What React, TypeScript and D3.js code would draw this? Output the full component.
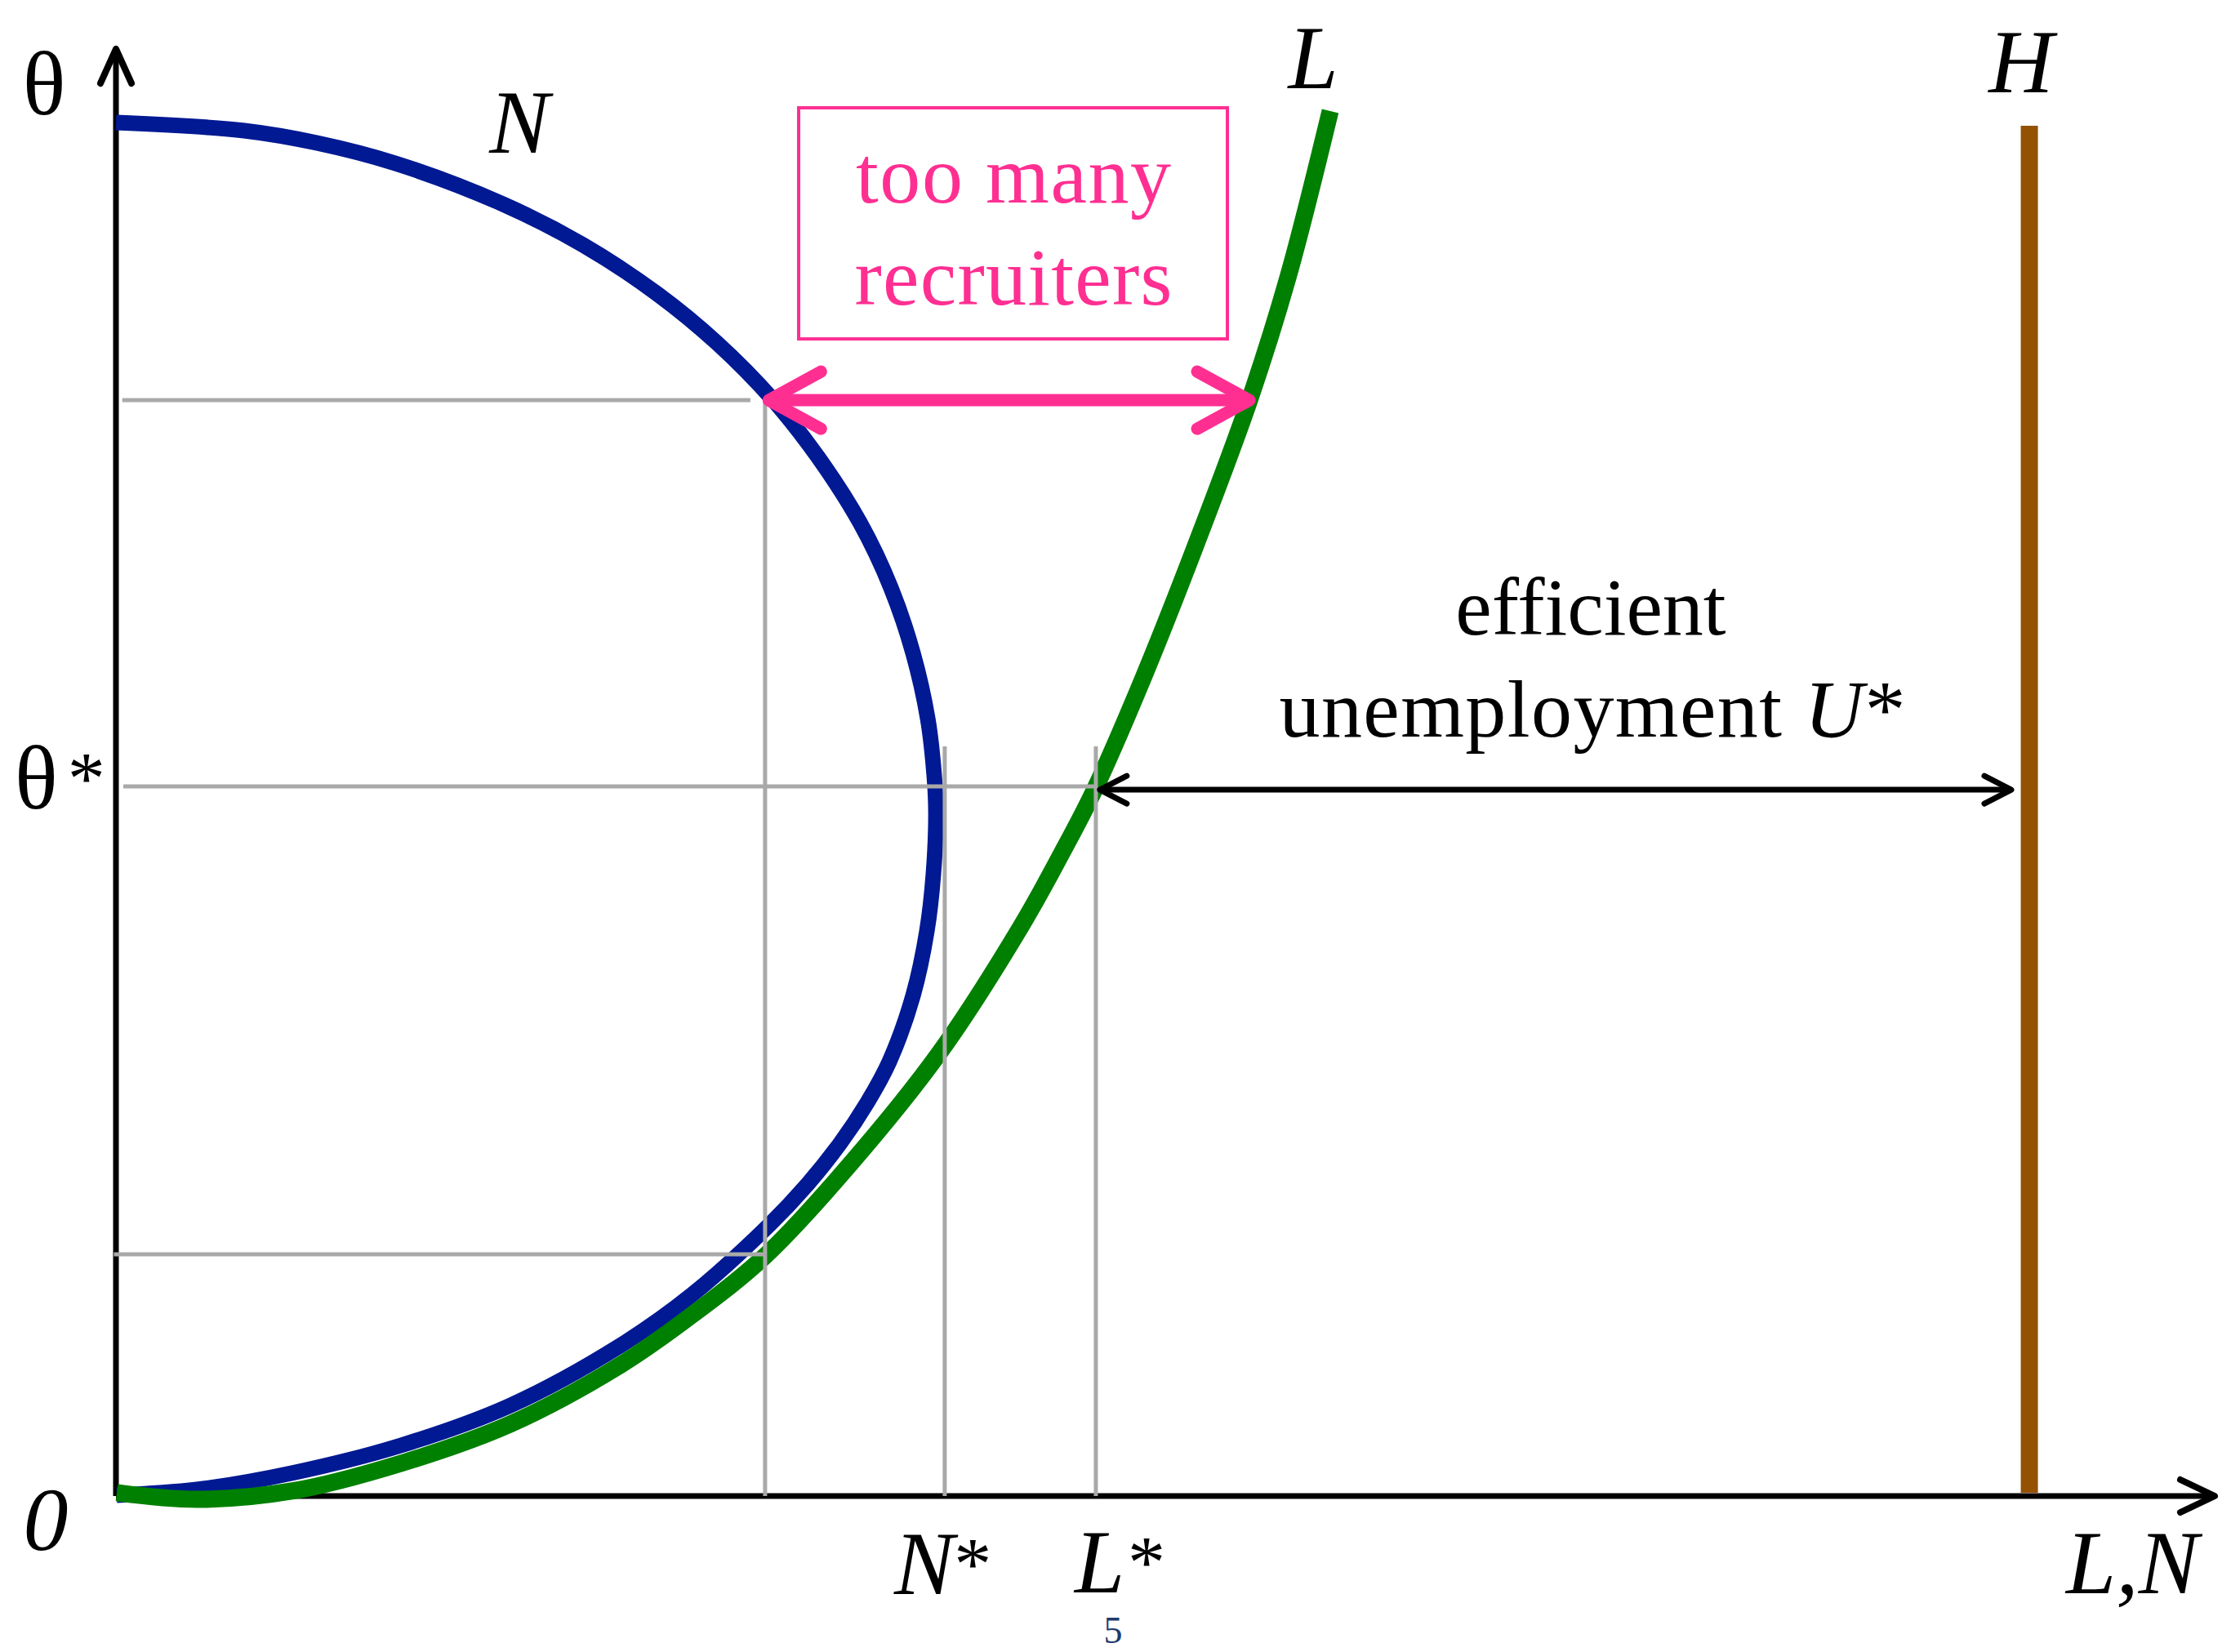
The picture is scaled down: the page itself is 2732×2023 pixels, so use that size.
import React from "react";
import * as d3 from "d3";

const WIDTH = 2732;
const HEIGHT = 2023;

// N curve (x = L,N value, y = θ value) from top to bottom
const nCurveX = [0, 6.11, 9.57, 13.31, 18.44, 22.26, 25.8, 28.64, 31.32, 33.46, 35.45, 36.93, 37.98, 38.68, 38.99, 39.07, 38.95, 38.64, 37.98, 36.85, 35.8, 34.51, 32.96, 31.13, 27.47, 24.01, 18.79, 13.58, 8.37, 3.85, 0.04];
const nCurveY = [94.92, 94.36, 93.51, 92.1, 89.28, 86.46, 83.07, 79.68, 75.73, 71.78, 67.27, 62.75, 58.24, 53.72, 49.77, 47.23, 43.0, 39.05, 34.59, 30.02, 27.2, 24.38, 21.56, 18.74, 13.94, 10.38, 6.26, 3.5, 1.58, 0.45, 0.06];

// L curve
const lCurveX = [0.04, 3.85, 8.37, 13.58, 18.79, 24.01, 27.47, 30.93, 34.94, 39.22, 43.11, 45.06, 46.61, 48.95, 51.4, 54.01, 55.84, 57.86];
const lCurveY = [0.23, -0.23, 0.34, 2.26, 4.97, 9.03, 12.53, 16.59, 22.86, 30.59, 39.33, 44.41, 48.76, 56.55, 65.52, 75.73, 84.2, 95.71];

// key values
const thetaLevels = [75.73, 49.04, 16.7]; // high θ, θ*, low θ
const xMarks = [30.93, 39.49, 46.69]; // N(θhigh)=L(θlow), N*, L*
const xMarkTops = [75.73, 51.8, 51.8];
const hLine = [91.17, 94.7]; // H position, top
const recruiterGap = [31.1, 54.01]; // at θ high
const unemploymentArrow = [46.88, 90.31, 48.81]; // from, to, θ

const BLUE = "#011993";
const GREEN = "#008000";
const PINK = "#ff2f92";
const BROWN = "#945200";
const GRAY = "#a9a9a9";
const FONT = "'Liberation Serif', 'Times New Roman', serif";

function chevron(tx: number, ty: number, dx: number, dy: number, len: number, half: number) {
  const bx = tx - dx * len;
  const by = ty - dy * len;
  const px = -dy;
  const py = dx;
  return `M${bx + px * half},${by + py * half}L${tx},${ty}L${bx - px * half},${by - py * half}`;
}

export default function App() {
  const x = d3.scaleLinear().domain([0, 100]).range([142, 2712]);
  const y = d3.scaleLinear().domain([0, 100]).range([1832, 60]);
  const line = d3
    .line<[number, number]>()
    .x((d) => x(d[0]))
    .y((d) => y(d[1]))
    .curve(d3.curveCatmullRom.alpha(0.5));

  const nPts = nCurveX.map((v, i) => [v, nCurveY[i]] as [number, number]);
  const lPts = lCurveX.map((v, i) => [v, lCurveY[i]] as [number, number]);

  const x0 = x(0);
  const y0 = y(0);

  const [thHigh, thStar, thLow] = thetaLevels;
  const [xGap, nStar, lStar] = xMarks;

  return (
    <div>
      <style>{`body{margin:0;overflow:hidden}`}</style>
      <svg width={WIDTH} height={HEIGHT} style={{ display: "block", background: "#fff" }} fontFamily={FONT}>
        <rect x={0} y={0} width={WIDTH} height={HEIGHT} fill="#fff" />

        {/* axes */}
        <line x1={x0} y1={y0} x2={x0} y2={y(100)} stroke="#000" strokeWidth={7} />
        <line x1={x0} y1={y0} x2={x(100)} y2={y0} stroke="#000" strokeWidth={7} />
        <path d={chevron(x0, y(100), 0, -1, 42, 19)} fill="none" stroke="#000" strokeWidth={8} strokeLinecap="round" strokeLinejoin="round" />
        <path d={chevron(x(100), y0, 1, 0, 42, 20)} fill="none" stroke="#000" strokeWidth={8} strokeLinecap="round" strokeLinejoin="round" />

        {/* H line */}
        <line x1={x(hLine[0])} y1={y(hLine[1])} x2={x(hLine[0])} y2={y0 - 4} stroke={BROWN} strokeWidth={21} />

        {/* curves */}
        <path d={line(nPts) || ""} fill="none" stroke={BLUE} strokeWidth={19} />
        <path d={line(lPts) || ""} fill="none" stroke={GREEN} strokeWidth={21} />

        {/* guide lines */}
        <g stroke={GRAY} strokeWidth={5}>
          <line x1={x(0.3)} y1={y(thHigh)} x2={x(xGap) - 18} y2={y(thHigh)} />
          <line x1={x(xGap)} y1={y(thHigh)} x2={x(xGap)} y2={y0} />
          <line x1={x(0.35)} y1={y(thStar)} x2={x(lStar)} y2={y(thStar)} />
          <line x1={x(-0.1)} y1={y(thLow)} x2={x(xGap)} y2={y(thLow)} />
          <line x1={x(nStar)} y1={y(xMarkTops[1])} x2={x(nStar)} y2={y0} />
          <line x1={x(lStar)} y1={y(xMarkTops[2])} x2={x(lStar)} y2={y0} />
        </g>

        {/* too many recruiters arrow */}
        <g stroke={PINK} strokeWidth={15} fill="none" strokeLinecap="round" strokeLinejoin="round">
          <line x1={x(recruiterGap[0]) + 10} y1={y(thHigh)} x2={x(recruiterGap[1]) - 10} y2={y(thHigh)} />
          <path d={chevron(x(recruiterGap[0]), y(thHigh), -1, 0, 64, 35)} />
          <path d={chevron(x(recruiterGap[1]), y(thHigh), 1, 0, 64, 35)} />
        </g>
        <rect x={978} y={132} width={525} height={283} fill="none" stroke={PINK} strokeWidth={4} />
        <text x={1241} y={248} textAnchor="middle" fontSize={100} fill={PINK} textLength={386} lengthAdjust="spacing">too many</text>
        <text x={1241} y={373} textAnchor="middle" fontSize={100} fill={PINK} textLength={389} lengthAdjust="spacing">recruiters</text>

        {/* efficient unemployment arrow */}
        <g stroke="#000" strokeWidth={7} fill="none" strokeLinecap="round" strokeLinejoin="round">
          <line x1={x(unemploymentArrow[0]) + 4} y1={y(unemploymentArrow[2])} x2={x(unemploymentArrow[1]) - 4} y2={y(unemploymentArrow[2])} />
          <path d={chevron(x(unemploymentArrow[0]), y(unemploymentArrow[2]), -1, 0, 33, 17)} />
          <path d={chevron(x(unemploymentArrow[1]), y(unemploymentArrow[2]), 1, 0, 33, 17)} />
        </g>
        <text x={1948} y={777} textAnchor="middle" fontSize={100} fill="#000">efficient</text>
        <text x={1950} y={902} textAnchor="middle" fontSize={100} fill="#000" textLength={767} lengthAdjust="spacing">
          unemployment <tspan fontStyle="italic">U</tspan>*
        </text>

        {/* labels */}
        <text x={54} y={140} textAnchor="middle" fontSize={110}>θ</text>
        <text x={18} y={990} fontSize={110}>θ<tspan dx={12} fontSize={92} dy={-6}>*</tspan></text>
        <text x={56} y={1898} textAnchor="middle" fontSize={110} fontStyle="italic">0</text>
        <text x={636} y={187} textAnchor="middle" fontSize={110} fontStyle="italic">N</text>
        <text x={1608} y={108} textAnchor="middle" fontSize={110} fontStyle="italic">L</text>
        <text x={2475} y={113} textAnchor="middle" fontSize={110} fontStyle="italic">H</text>
        <text x={x(nStar) - 62} y={1952} fontSize={110} fontStyle="italic">N<tspan fontStyle="normal" fontSize={92} dy={-6}>*</tspan></text>
        <text x={x(lStar) - 26} y={1950} fontSize={110} fontStyle="italic">L<tspan fontStyle="normal" fontSize={92} dx={4} dy={-6}>*</tspan></text>
        <text x={2530} y={1951} fontSize={110} fontStyle="italic">L,N</text>
        <text x={1363} y={2012} textAnchor="middle" fontSize={46} fill="#1f3b6b">5</text>
      </svg>
    </div>
  );
}
